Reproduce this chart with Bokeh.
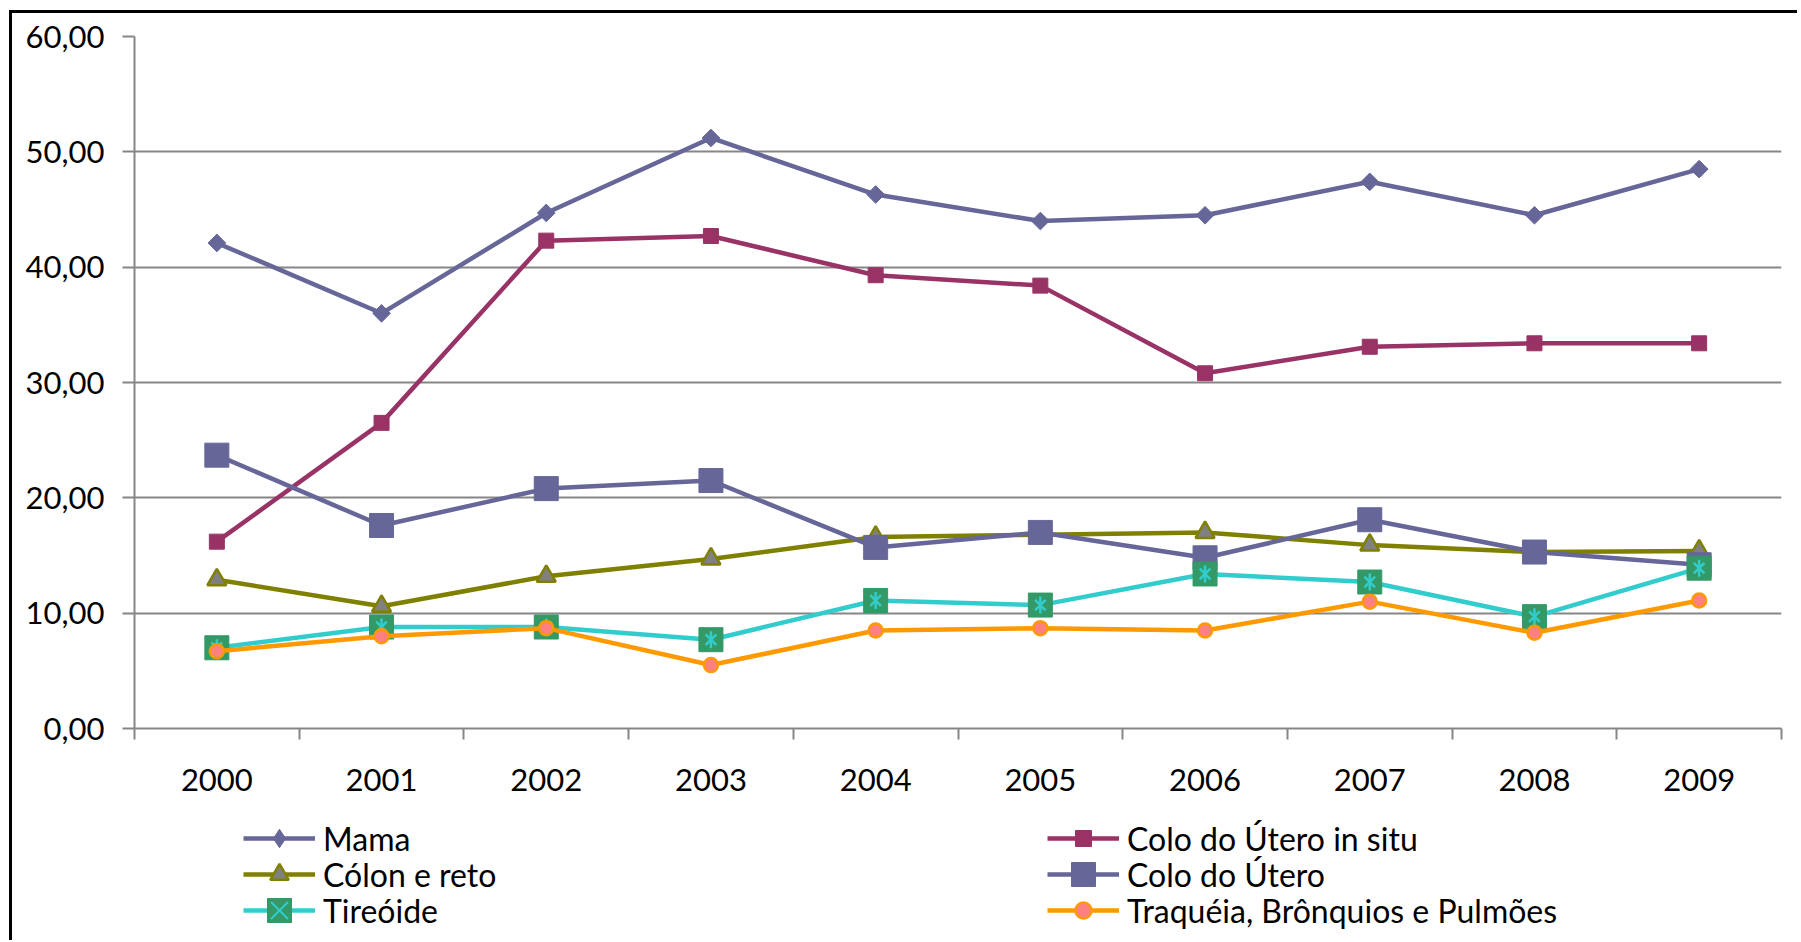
from bokeh.plotting import figure
from bokeh.models import FixedTicker, Legend, LegendItem
from bokeh.layouts import column
from bokeh.embed import file_html
from bokeh.resources import INLINE
import math

years = ["2000", "2001", "2002", "2003", "2004", "2005", "2006", "2007", "2008", "2009"]
mama = [42.1, 36.0, 44.7, 51.2, 46.3, 44.0, 44.5, 47.4, 44.5, 48.5]
colo_in_situ = [16.2, 26.5, 42.3, 42.7, 39.3, 38.4, 30.8, 33.1, 33.4, 33.4]
colon_reto = [12.9, 10.6, 13.2, 14.7, 16.6, 16.8, 17.0, 15.9, 15.3, 15.4]
colo_utero = [23.7, 17.6, 20.8, 21.5, 15.7, 17.0, 14.8, 18.1, 15.3, 14.2]
tireoide = [7.0, 8.8, 8.8, 7.7, 11.1, 10.7, 13.4, 12.7, 9.7, 13.9]
traqueia = [6.7, 8.0, 8.7, 5.5, 8.5, 8.7, 8.5, 11.0, 8.3, 11.1]
y_ticks = [0, 10, 20, 30, 40, 50, 60]
y_labels = ["0,00", "10,00", "20,00", "30,00", "40,00", "50,00", "60,00"]

x = list(range(len(years)))
FONT = "Lato"
FS = "31px"
GRID = "#868686"
LW = 4.5

# name, values, line colour, chart markers, legend markers, legend glyph height
series = [
    ("Mama", mama, "#666699",
     [dict(marker="square", angle=math.pi / 4, size=12.5, fill_color="#666699", line_color="#666699")],
     [dict(marker="diamond", fill_color="#666699", line_color="#666699")], 46),
    ("Colo do Útero in situ", colo_in_situ, "#993366",
     [dict(marker="square", size=15, fill_color="#993366", line_color="#993366")],
     [dict(marker="square", fill_color="#993366", line_color="#993366")], 40),
    ("Cólon e reto", colon_reto, "#808000",
     [dict(marker="triangle", size=19, fill_color="#808080", line_color="#808000", line_width=2.5)],
     [dict(marker="triangle", fill_color="#808080", line_color="#808000", line_width=2.5)], 46),
    ("Colo do Útero", colo_utero, "#666699",
     [dict(marker="square", size=24, fill_color="#666699", line_color="#666699")],
     [dict(marker="square", fill_color="#666699", line_color="#666699")], 60),
    ("Tireóide", tireoide, "#33CCCC",
     [dict(marker="square", size=24, fill_color="#339966", line_color="#339966"),
      dict(marker="x", size=15, line_color="#33CCCC", line_width=2.5),
      dict(marker="dash", angle=math.pi / 2, size=17, line_color="#33CCCC", line_width=2.5)],
     [dict(marker="square", fill_color="#339966", line_color="#339966"),
      dict(marker="x", line_color="#33CCCC", line_width=2)], 60),
    ("Traquéia, Brônquios e Pulmões", traqueia, "#FF9900",
     [dict(marker="circle", size=14, fill_color="#FF8080", line_color="#FF9900", line_width=2.5)],
     [dict(marker="circle", fill_color="#FF8080", line_color="#FF9900", line_width=2.5)], 40),
]

p = figure(width=1785, height=800, output_backend="svg", toolbar_location=None,
           x_range=(-0.5, len(years) - 0.5), y_range=(0, 60),
           min_border_left=122, min_border_top=23, min_border_right=16, min_border_bottom=85)
p.outline_line_color = None
p.xgrid.grid_line_color = None
p.ygrid.grid_line_color = GRID
p.ygrid.grid_line_width = 2
p.ygrid.ticker = FixedTicker(ticks=y_ticks)

ya = p.yaxis[0]
ya.ticker = FixedTicker(ticks=y_ticks)
ya.major_label_overrides = {t: l for t, l in zip(y_ticks, y_labels)}
ya.axis_line_color = GRID
ya.axis_line_width = 2
ya.major_tick_line_color = GRID
ya.major_tick_line_width = 2
ya.major_tick_out = 12
ya.major_tick_in = 0
ya.minor_tick_line_color = None
ya.major_label_standoff = 18
ya.major_label_text_font = FONT
ya.major_label_text_font_size = FS
ya.major_label_text_color = "#000000"

xa = p.xaxis[0]
xa.ticker = FixedTicker(ticks=x, minor_ticks=[i - 0.5 for i in range(len(years) + 1)])
xa.major_label_overrides = {i: y for i, y in zip(x, years)}
xa.axis_line_color = GRID
xa.axis_line_width = 2
xa.major_tick_line_color = None
xa.major_tick_out = 11
xa.major_tick_in = 0
xa.minor_tick_line_color = GRID
xa.minor_tick_line_width = 2
xa.minor_tick_out = 11
xa.minor_tick_in = 0
xa.major_label_standoff = 29
xa.major_label_text_font = FONT
xa.major_label_text_font_size = FS
xa.major_label_text_color = "#000000"

for name, vals, lc, markers, lmarkers, gh in series:
    p.line(x, vals, line_color=lc, line_width=LW)
    for m in markers:
        p.scatter(x, vals, **m)

# legend panel below the chart: same series, ranges put the data out of view
Q_H = 127
q = figure(width=1785, height=Q_H, output_backend="svg", toolbar_location=None,
           x_range=(100, 101), y_range=(100, 101), x_axis_location=None, y_axis_location=None,
           min_border_left=0, min_border_right=0, min_border_top=0, min_border_bottom=0)
q.outline_line_color = None
q.grid.visible = False

# legend grid: two columns (x offsets), three rows (centres from the bottom of the panel)
col_x = [109, 913]
row_c = [102, 66, 30]
for i, (name, vals, lc, markers, lmarkers, gh) in enumerate(series):
    rs = [q.line(x, vals, line_color=lc, line_width=LW)]
    for m in lmarkers:
        rs.append(q.scatter(x, vals, **m))
    item = LegendItem(label=name, renderers=rs, index=0)
    cx = col_x[i % 2]
    cy = row_c[i // 2]
    lg = Legend(items=[item], location=(cx, cy - gh // 2), orientation="vertical",
                glyph_width=72, glyph_height=gh, label_height=gh, spacing=0,
                label_standoff=8, padding=0, margin=0,
                border_line_color=None, background_fill_alpha=0,
                label_text_font=FONT, label_text_font_size="32px", label_text_color="#000000")
    q.add_layout(lg, "center")

layout = column(p, q, spacing=0,
                styles={"border-left": "3px solid #000", "border-top": "3px solid #000",
                        "margin-left": "9px", "margin-top": "10px"})

open("out.html", "w").write(file_html(layout, INLINE))
